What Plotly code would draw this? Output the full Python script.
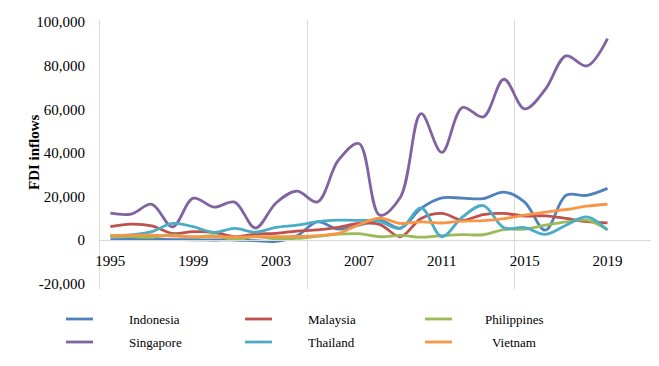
import plotly.graph_objects as go

years = list(range(1995, 2020))

indonesia = [200, 300, 300, 200, 100, 0, 0, -300, -600, 1900, 8300, 5000, 6800, 9100, 5500,
             14500, 19300, 19200, 19000, 22000, 17400, 4500, 20500, 20500, 23700]
malaysia = [6100, 7300, 6500, 3000, 3800, 3500, 1500, 2700, 3000, 4100, 4600, 5800, 7600, 7200, 1500,
            9900, 12200, 9100, 11700, 12200, 11000, 11100, 9900, 8400, 7900]
philippines = [1500, 1500, 1200, 2300, 1200, 2000, 200, 1500, 500, 700, 1700, 2700, 2900, 1500, 2100,
               1300, 2000, 2500, 2400, 4800, 5000, 6800, 8300, 9100, 4700]
singapore = [12300, 11900, 16400, 6000, 19200, 15100, 17400, 5500, 17000, 22400, 17500, 36500, 44300, 11400, 19600,
             58000, 40200, 60800, 56500, 73800, 60200, 69200, 84500, 79900, 92500]
thailand = [2000, 2300, 3800, 7600, 6100, 3500, 5300, 3600, 5800, 6800, 8400, 9100, 9000, 8600, 5300,
            14700, 1500, 10600, 15800, 5600, 5700, 2600, 6800, 10600, 4600]
vietnam = [2000, 2200, 2200, 1800, 1500, 1400, 1400, 1400, 1500, 1600, 2000, 3000, 7000, 10000, 7600,
           8300, 7800, 8700, 8900, 9800, 11400, 12800, 14000, 15500, 16400]

series_names = ["Indonesia", "Malaysia", "Philippines", "Singapore", "Thailand", "Vietnam"]
series_values = [indonesia, malaysia, philippines, singapore, thailand, vietnam]
series_colors = ["#4F81BD", "#C0504D", "#9BBB59", "#8064A2", "#4BACC6", "#F79646"]

x_tick_vals = [1995, 1999, 2003, 2007, 2011, 2015, 2019]
x_tick_text = ["1995", "1999", "2003", "2007", "2011", "2015", "2019"]
y_tick_vals = [-20000, 0, 20000, 40000, 60000, 80000, 100000]
y_tick_text = ["-20,000", "0", "20,000", "40,000", "60,000", "80,000", "100,000"]

W, H = 659, 366
ML, MR, MT, MB = 100, 8, 20, 77
PW, PH = W - ML - MR, H - MT - MB
Y_RANGE = [-22500, 101000]
X_RANGE = [1994.5, 2021.1]
FONT = "Liberation Serif, 'Times New Roman', Times, serif"


def px_x(px):
    return (px - ML) / PW


def px_y(py):
    return (H - MB - py) / PH


fig = go.Figure()
for name, vals, col in zip(series_names, series_values, series_colors):
    fig.add_trace(go.Scatter(x=years, y=vals, name=name, mode="lines",
                             line=dict(color=col, width=2.8, shape="spline", smoothing=1.0)))

zero_pos = (0 - Y_RANGE[0]) / (Y_RANGE[1] - Y_RANGE[0])

fig.update_layout(
    width=W, height=H,
    margin=dict(l=ML, r=MR, t=MT, b=MB, autoexpand=False),
    plot_bgcolor="white", paper_bgcolor="white",
    showlegend=False,
    font=dict(family=FONT, size=15, color="black"),
    xaxis=dict(range=X_RANGE, tickvals=x_tick_vals, ticktext=x_tick_text,
               showgrid=False, zeroline=False, anchor="free", position=zero_pos,
               showline=True, linecolor="#d9d9d9", linewidth=1, ticks="",
               ticklabelstandoff=7, automargin=False,
               minor=dict(tick0=1994.5, dtick=10, showgrid=True, gridcolor="#d9d9d9", gridwidth=1)),
    yaxis=dict(range=Y_RANGE, tickvals=y_tick_vals, ticktext=y_tick_text,
               showgrid=False, zeroline=False, showline=True, linecolor="#d9d9d9",
               linewidth=1, ticks="", ticklabelstandoff=11, automargin=False),
)

fig.add_annotation(text="<b>FDI inflows</b>", x=px_x(34), y=px_y(152), xref="paper", yref="paper",
                   textangle=-90, showarrow=False, font=dict(size=15, family=FONT),
                   xanchor="center", yanchor="middle")

# manual legend, 3 columns x 2 rows
leg_line_x = [66, 245, 425]
leg_text_x = [127, 306, 514]
leg_text_anchor = ["left", "left", "center"]
leg_row_y = [319, 342]
for i, (name, col) in enumerate(zip(series_names, series_colors)):
    r, c = divmod(i, 3)
    y = leg_row_y[r]
    fig.add_shape(type="line", xref="paper", yref="paper",
                  x0=px_x(leg_line_x[c]), x1=px_x(leg_line_x[c] + 27),
                  y0=px_y(y), y1=px_y(y), line=dict(color=col, width=2.8))
    fig.add_annotation(text=name, x=px_x(leg_text_x[c]), y=px_y(y), xref="paper", yref="paper",
                       showarrow=False, xanchor=leg_text_anchor[c], yanchor="middle",
                       font=dict(size=13, family=FONT))

fig.write_html("out.html", config={"displayModeBar": False},
               post_script="document.body.style.margin='0px';")
